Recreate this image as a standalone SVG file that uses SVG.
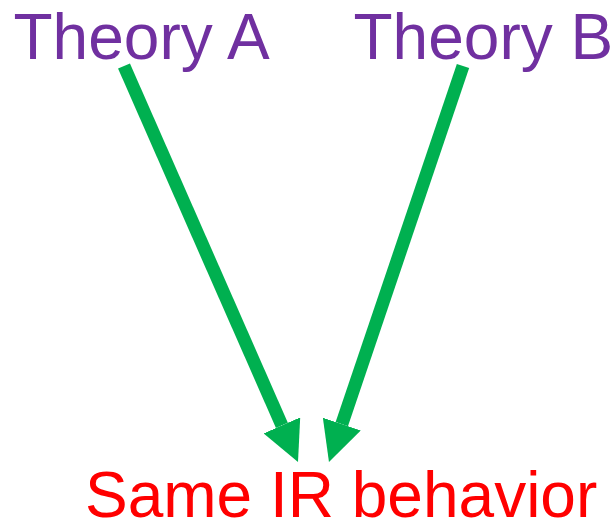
<svg xmlns="http://www.w3.org/2000/svg" width="616" height="523" viewBox="0 0 616 523">
  <style>
    .label { font-family: "Liberation Sans", Arial, sans-serif; font-size: 64px; }
    .theory { fill: #7030A0; }
    .result { fill: #FF0000; }
    .arrow { stroke: #00B050; stroke-width: 13; fill: none; stroke-linecap: butt; }
  </style>
  <defs>
    <marker id="head" markerUnits="userSpaceOnUse" markerWidth="40" markerHeight="40" refX="0" refY="20" orient="auto" viewBox="0 0 40 40">
      <path d="M0,0 L40,20 L0,40 Z" fill="#00B050"/>
    </marker>
  </defs>
  <rect width="616" height="523" fill="#FFFFFF"/>
  <g id="connectors">
    <line class="arrow" x1="124" y1="66" x2="281.9" y2="425.4" marker-end="url(#head)"/>
    <line class="arrow" x1="463" y1="66" x2="341.8" y2="424.1" marker-end="url(#head)"/>
  </g>
  <g id="theoryA">
    <text class="label theory" x="13.5" y="59">Theory A</text>
  </g>
  <g id="theoryB">
    <text class="label theory" x="353.5" y="59">Theory B</text>
  </g>
  <g id="result">
    <text class="label result" x="85" y="517">Same IR behavior</text>
  </g>
</svg>
